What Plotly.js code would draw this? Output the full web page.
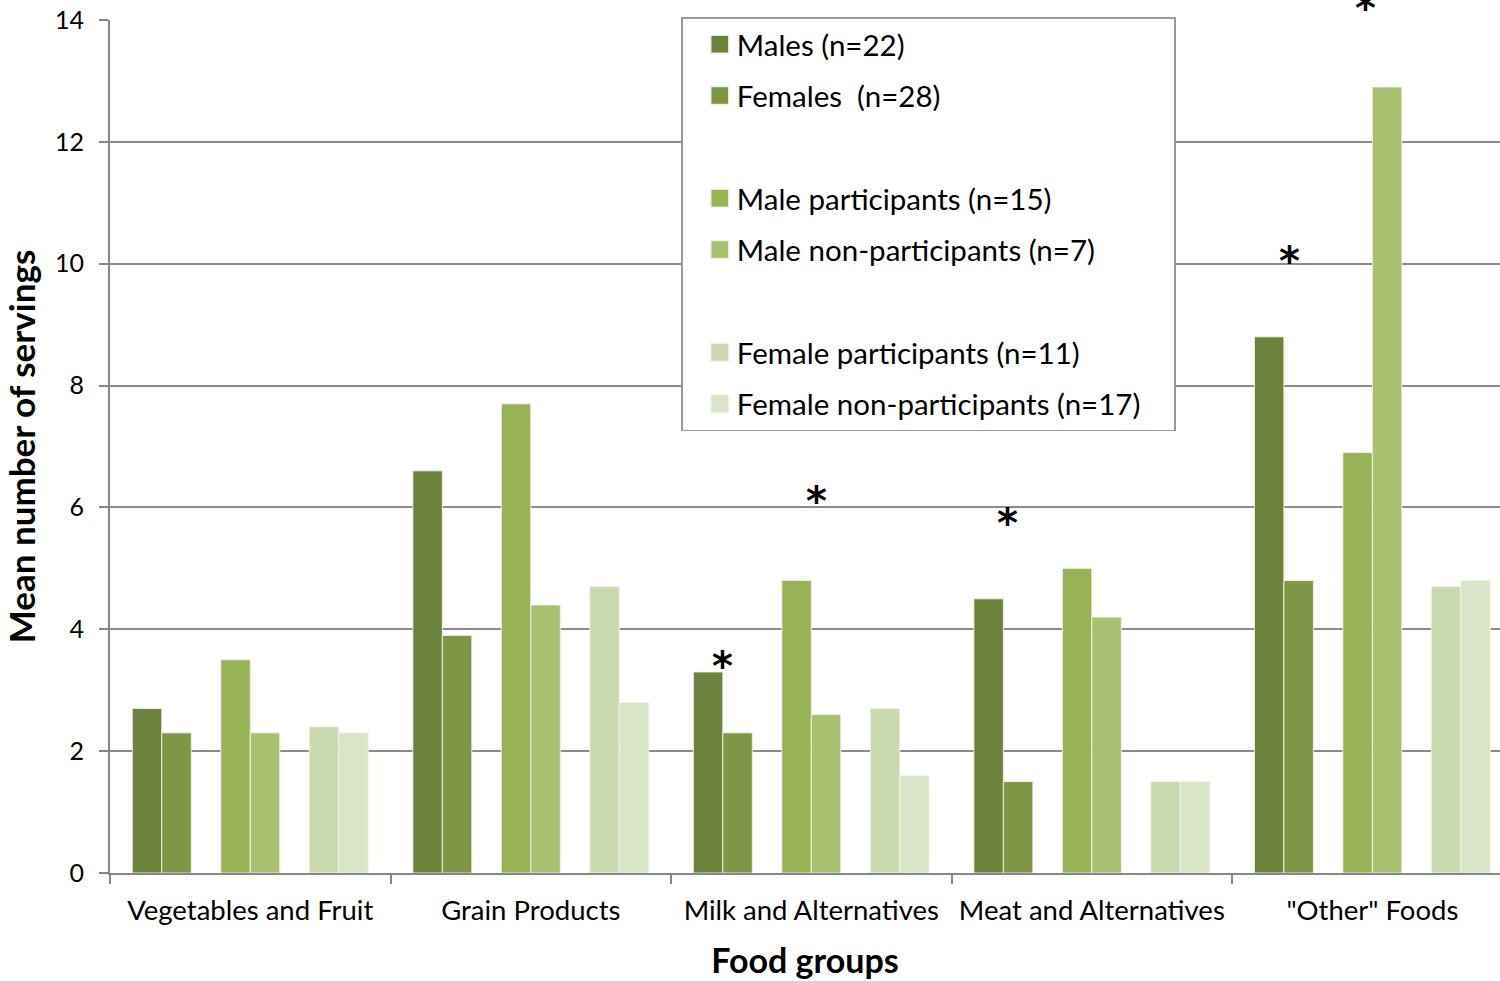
<!DOCTYPE html>
<html>
<head>
<meta charset="utf-8">
<script src="https://cdn.plot.ly/plotly-3.0.1.min.js"></script>
<style>html,body{margin:0;padding:0;background:#fff;}#chart{width:1500px;height:981px;}</style>
</head>
<body>
<div id="chart"></div>
<script>
const categories = ["Vegetables and Fruit", "Grain Products", "Milk and Alternatives", "Meat and Alternatives", "\"Other\" Foods"];
const males = [2.7, 6.6, 3.3, 4.5, 8.8];
const females = [2.3, 3.9, 2.3, 1.5, 4.8];
const maleParticipants = [3.5, 7.7, 4.8, 5.0, 6.9];
const maleNonParticipants = [2.3, 4.4, 2.6, 4.2, 12.9];
const femaleParticipants = [2.4, 4.7, 2.7, 1.5, 4.7];
const femaleNonParticipants = [2.3, 2.8, 1.6, 1.5, 4.8];
const blank = [null, null, null, null, null];
const yTicks = [0, 2, 4, 6, 8, 10, 12, 14];

// significance markers (category position, value)
const starX = [1.685, 2.017, 2.698, 3.703, 3.974];
const starY = [3.5, 6.2, 5.85, 10.15, 14.3];

const seriesNames = ["Males (n=22)", "Females  (n=28)", " ", "Male participants (n=15)", "Male non-participants (n=7)", "  ", "Female participants (n=11)", "Female non-participants (n=17)"];
const seriesValues = [males, females, blank, maleParticipants, maleNonParticipants, blank, femaleParticipants, femaleNonParticipants];
const seriesColors = ["#6b833c", "#7e9645", "rgba(0,0,0,0)", "#97b356", "#a7c170", "rgba(0,0,0,0)", "#cad9b0", "#dae4c8"];

const FONT = "Lato, 'Open Sans', sans-serif";
const Y_MAX = 14;
const PX_PER_UNIT = (981 - 108 - 20) / Y_MAX;

const traces = seriesNames.map((n, i) => ({
  type: "bar",
  name: n,
  x: categories,
  y: seriesValues[i],
  legendgroup: "g" + i,
  marker: {
    color: seriesColors[i],
    line: {color: seriesColors[i] === "rgba(0,0,0,0)" ? "rgba(0,0,0,0)" : "rgba(240,245,230,0.9)", width: 1}
  },
  hoverinfo: "skip"
}));

const annotations = starX.map((x, i) => ({
  x: x, y: Math.min(starY[i], Y_MAX), xref: "x", yref: "y",
  text: "<b>*</b>", showarrow: false,
  font: {family: "'DejaVu Sans', sans-serif", size: 40, color: "#000"},
  yanchor: "middle", xanchor: "center",
  yshift: -6 + Math.max(0, starY[i] - Y_MAX) * PX_PER_UNIT
}));

const layout = {
  width: 1500, height: 981,
  margin: {l: 110, r: 0, t: 20, b: 108},
  paper_bgcolor: "#fff", plot_bgcolor: "#fff",
  font: {family: FONT, color: "#000"},
  barmode: "group",
  bargap: 0.159,
  bargroupgap: 0,
  showlegend: true,
  legend: {
    x: 0.411, xanchor: "left", y: 1.0035, yanchor: "top",
    bgcolor: "#fff", bordercolor: "#9a9a9a", borderwidth: 1.5,
    font: {family: FONT, size: 29.5, color: "#000"},
    traceorder: "grouped", tracegroupgap: 10,
    itemwidth: 44,
    itemclick: false, itemdoubleclick: false
  },
  xaxis: {
    type: "category",
    range: [-0.5, 4.455],
    tickson: "boundaries",
    ticks: "outside", ticklen: 9, tickcolor: "#888", tickwidth: 2,
    showline: true, linecolor: "#888", linewidth: 2,
    showgrid: false, zeroline: false,
    tickfont: {family: FONT, size: 27.5, color: "#000"},
    ticklabelstandoff: 12,
    title: {text: "<b>Food groups</b>", font: {family: FONT, size: 34, color: "#000"}, standoff: 24},
    fixedrange: true
  },
  yaxis: {
    range: [0, Y_MAX],
    tickvals: yTicks,
    ticks: "outside", ticklen: 9, tickcolor: "#888", tickwidth: 2,
    showline: true, linecolor: "#888", linewidth: 2,
    showgrid: true, gridcolor: "#8c8c8c", gridwidth: 2,
    zeroline: false,
    tickfont: {family: FONT, size: 25, color: "#000"},
    ticklabelstandoff: 10,
    title: {text: "<b>Mean number of servings</b>", font: {family: FONT, size: 35, color: "#000"}, standoff: 9},
    fixedrange: true
  },
  annotations: annotations
};

Plotly.newPlot("chart", traces, layout, {displayModeBar: false, staticPlot: true}).then(function (gd) {
  gd.querySelectorAll(".legend .legendpoints path").forEach(function (p) {
    const t = p.getAttribute("transform") || "";
    p.setAttribute("transform", t + " translate(10,0) scale(1.5)");
  });
  const bg = gd.querySelector(".legend rect.bg");
  if (bg) bg.setAttribute("width", "493");
});
</script>
</body>
</html>
